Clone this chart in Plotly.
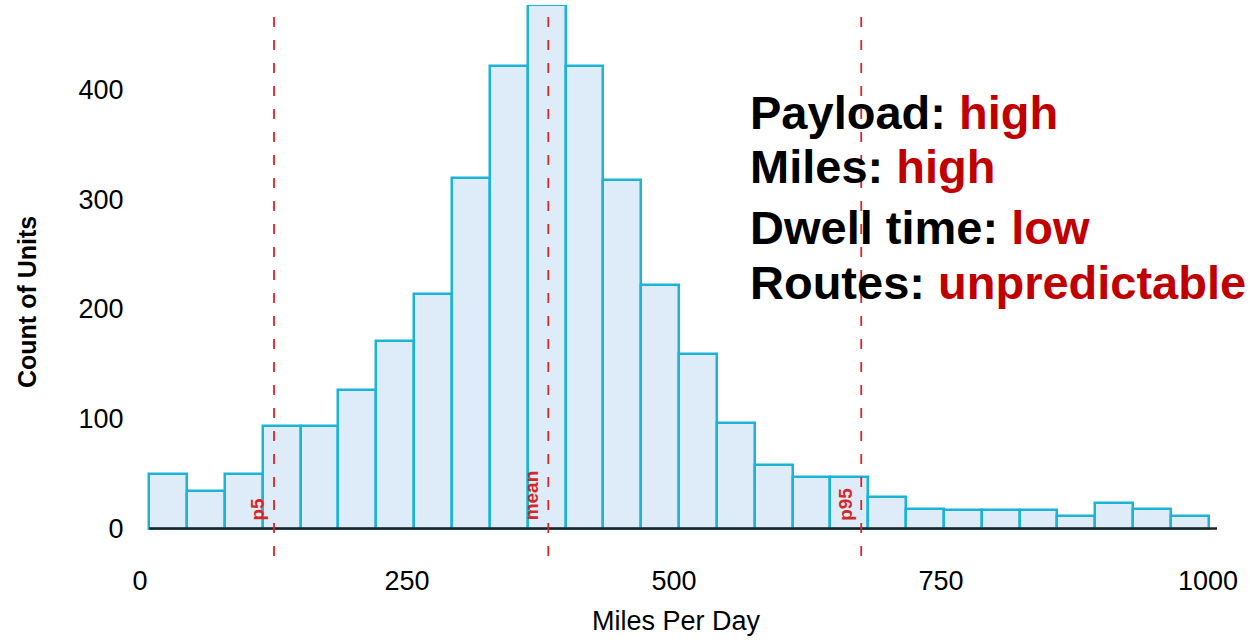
import plotly.graph_objects as go

# ---- data ----
bin_start = 8.7          # left edge of first bin (miles/day)
bin_width = 35.43        # bin width (miles/day)
counts = [50, 34, 50, 93, 93, 126, 171, 214, 319, 421, 477, 421, 318, 222,
          159, 96, 58, 47, 47, 29, 18, 17, 17, 17, 11, 23, 18, 11]

ref_names = ["p5", "mean", "p95"]
ref_values = [125.5, 382.3, 675.3]

x_ticks = [0, 250, 500, 750, 1000]
y_ticks = [0, 100, 200, 300, 400]

labels = ["Payload: ", "Miles: ", "Dwell time: ", "Routes: "]
ratings = ["high", "high", "low", "unpredictable"]

# ---- styling ----
FONT = "Liberation Sans, Arial, sans-serif"
BAR_FILL = "#DEEBF8"
BAR_LINE = "#1CB3D9"
RED_LINE = "#D62728"
RED_TEXT = "#C00000"

x_centers = [bin_start + bin_width * (i + 0.5) for i in range(len(counts))]
x_range = [-4.68, 1008.4]
y_range = [-25, 477]

fig = go.Figure()
fig.add_trace(go.Bar(
    x=x_centers, y=counts, width=bin_width,
    marker=dict(color=BAR_FILL, line=dict(color=BAR_LINE, width=2.5)),
    showlegend=False,
))

# baseline (x axis line)
fig.add_shape(type="line", xref="x", yref="y",
              x0=bin_start, x1=x_range[1], y0=0, y1=0,
              line=dict(color="#222222", width=2.5), layer="above")

# reference lines
for name, v in zip(ref_names, ref_values):
    fig.add_shape(type="line", xref="x", yref="y",
                  x0=v, x1=v, y0=y_range[0], y1=y_range[1],
                  line=dict(color=RED_LINE, width=1.8, dash="10px,13px"),
                  layer="above")
    fig.add_annotation(x=v, y=0, xref="x", yref="y", text=f"<b>{name}</b>",
                       textangle=-90, showarrow=False,
                       xanchor="right", yanchor="bottom",
                       xshift=-4, yshift=6,
                       font=dict(family=FONT, size=19, color=RED_LINE))

# text block
line_y = [0.804, 0.706, 0.597, 0.497]
for lab, rat, yy in zip(labels, ratings, line_y):
    fig.add_annotation(
        x=0.5665, y=yy, xref="paper", yref="paper", showarrow=False,
        xanchor="left", yanchor="middle",
        text=f"<b>{lab}</b><b><span style='color:{RED_TEXT}'>{rat}</span></b>",
        font=dict(family=FONT, size=47, color="black"),
    )

# y axis title
fig.add_annotation(x=-0.0998, y=0.461, xref="paper", yref="paper",
                   text="<b>Count of Units</b>", textangle=-90, showarrow=False,
                   xanchor="center", yanchor="middle",
                   font=dict(family=FONT, size=25, color="black"))

fig.update_layout(
    width=1255, height=642,
    margin=dict(l=135, r=38, t=5, b=86),
    paper_bgcolor="white", plot_bgcolor="white",
    font=dict(family=FONT, color="black"),
    bargap=0,
    xaxis=dict(range=x_range, tickvals=x_ticks, showgrid=False, zeroline=False,
               showline=False, ticks="outside", ticklen=1,
               tickcolor="rgba(0,0,0,0)", tickfont=dict(size=27),
               title=dict(text="Miles Per Day", font=dict(size=27), standoff=15)),
    yaxis=dict(range=y_range, tickvals=y_ticks, showgrid=False, zeroline=False,
               showline=False, ticks="outside", ticklen=5,
               tickcolor="rgba(0,0,0,0)", tickfont=dict(size=27)),
)

fig.write_html("out.html",
               config={"displayModeBar": False},
               post_script="document.body.style.margin='0';document.body.style.overflow='hidden';")
